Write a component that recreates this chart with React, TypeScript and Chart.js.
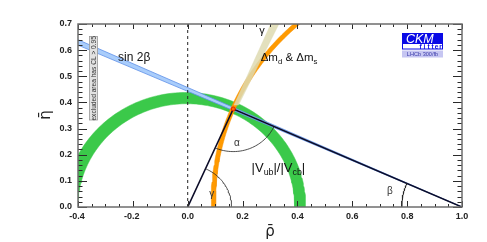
import React, { useEffect, useRef } from "react";
import { Chart, registerables } from "chart.js";

Chart.register(...registerables);

// ---- axes ----
const X_RANGE = [-0.4, 1.0];
const Y_RANGE = [0.0, 0.7];
const X_TICKS = [-0.4, -0.2, 0.0, 0.2, 0.4, 0.6, 0.8, 1.0];
const Y_TICKS = [0.0, 0.1, 0.2, 0.3, 0.4, 0.5, 0.6, 0.7];
const X_TICK_LABELS = ["-0.4", "-0.2", "0.0", "0.2", "0.4", "0.6", "0.8", "1.0"];
const Y_TICK_LABELS = ["0.0", "0.1", "0.2", "0.3", "0.4", "0.5", "0.6", "0.7"];

// ---- best fit apex (rho-bar, eta-bar) ----
const APEX_RHO = [0.166];
const APEX_ETA = [0.375];

// ---- |Vub|/|Vcb| ring around (0,0): polar angle (deg) -> inner / outer radius ----
const VUB_ANGLE = [0, 90, 180];
const VUB_INNER = [0.39, 0.395, 0.401];
const VUB_OUTER = [0.43, 0.438, 0.45];

// ---- Δmd & Δms ring around (1,0): eta -> radius ----
const DM_ETA = [0.0, 0.7];
const DM_RADIUS = [0.906, 0.924];
const DM_HALF_WIDTH = [0.008];

// ---- sin 2β wedge from (1,0): beta range (deg) ----
const SIN2B_BETA = [23.86, 24.56];

// ---- γ band from (0,0): angle range (deg), eta range shown ----
const GAMMA_ANGLE = [64.6, 66.6];
const GAMMA_ETA = [0.39, 0.75];

const FONT = '"Liberation Sans", Arial, Helvetica, sans-serif';
const D2R = Math.PI / 180;

type P = { x: number; y: number };

function interp(xs: number[], ys: number[], v: number): number {
  if (v <= xs[0]) {
    const t = (v - xs[0]) / (xs[1] - xs[0]);
    return ys[0] + (ys[1] - ys[0]) * t;
  }
  for (let i = 1; i < xs.length; i++) {
    if (v <= xs[i] || i === xs.length - 1) {
      const t = (v - xs[i - 1]) / (xs[i] - xs[i - 1]);
      return ys[i - 1] + (ys[i] - ys[i - 1]) * t;
    }
  }
  return ys[ys.length - 1];
}

function vubRing(): P[] {
  const outer: P[] = [];
  const inner: P[] = [];
  for (let d = 0; d <= 180; d += 1.5) {
    const a = d * D2R;
    const ro = interp(VUB_ANGLE, VUB_OUTER, d);
    const ri = interp(VUB_ANGLE, VUB_INNER, d);
    outer.push({ x: ro * Math.cos(a), y: ro * Math.sin(a) });
    inner.push({ x: ri * Math.cos(a), y: ri * Math.sin(a) });
  }
  return [...outer, ...inner.reverse()];
}

function dmRing(): P[] {
  const outer: P[] = [];
  const inner: P[] = [];
  const h = DM_HALF_WIDTH[0];
  for (let d = 0; d <= 62; d += 1) {
    const a = d * D2R;
    const eta0 = DM_RADIUS[0] * Math.sin(a);
    const r = interp(DM_ETA, DM_RADIUS, eta0);
    outer.push({ x: 1 - (r + h) * Math.cos(a), y: (r + h) * Math.sin(a) });
    inner.push({ x: 1 - (r - h) * Math.cos(a), y: (r - h) * Math.sin(a) });
  }
  return [...outer, ...inner.reverse()];
}

function sin2bWedge(): P[] {
  const x0 = -0.6;
  const L = 1 - x0;
  return [
    { x: 1, y: 0 },
    { x: x0, y: L * Math.tan(SIN2B_BETA[0] * D2R) },
    { x: x0, y: L * Math.tan(SIN2B_BETA[1] * D2R) },
    { x: 1, y: 0 },
  ];
}

function gammaBand(): P[] {
  const [e0, e1] = GAMMA_ETA;
  const [g0, g1] = GAMMA_ANGLE;
  return [
    { x: e0 / Math.tan(g0 * D2R), y: e0 },
    { x: e1 / Math.tan(g0 * D2R), y: e1 },
    { x: e1 / Math.tan(g1 * D2R), y: e1 },
    { x: e0 / Math.tan(g1 * D2R), y: e0 },
    { x: e0 / Math.tan(g0 * D2R), y: e0 },
  ];
}

function arc(cx: number, cy: number, r: number, a0: number, a1: number): P[] {
  const pts: P[] = [];
  const n = 40;
  for (let i = 0; i <= n; i++) {
    const a = (a0 + ((a1 - a0) * i) / n) * D2R;
    pts.push({ x: cx + r * Math.cos(a), y: cy + r * Math.sin(a) });
  }
  return pts;
}

function buildDatasets() {
  const ar = APEX_RHO[0];
  const ae = APEX_ETA[0];
  const toOrigin = Math.atan2(-ae, -ar) / D2R;
  const toOne = Math.atan2(-ae, 1 - ar) / D2R;
  const gammaDeg = Math.atan2(ae, ar) / D2R;
  const betaDeg = Math.atan2(ae, 1 - ar) / D2R;

  const base = { showLine: true, pointRadius: 0, pointHoverRadius: 0, clip: 0, tension: 0 };
  const list: any[] = [
    { ...base, label: "|Vub|/|Vcb|", data: vubRing(), fill: "shape", backgroundColor: "#3bc94a", borderColor: "#3bc94a", borderWidth: 0.5 },
    { ...base, label: "sin 2β", data: sin2bWedge(), fill: "shape", backgroundColor: "#a9cdfb", borderColor: "#5d8fe8", borderWidth: 0.8 },
    { ...base, label: "Δmd & Δms", data: dmRing(), fill: "shape", backgroundColor: "#ff9a00", borderColor: "#f59000", borderWidth: 0.5 },
    { ...base, label: "γ", data: gammaBand(), fill: "shape", backgroundColor: "rgba(222,218,178,0.85)", borderColor: "rgba(222,218,178,0.85)", borderWidth: 0.5 },
    { ...base, label: "rho=0", data: [{ x: 0, y: Y_RANGE[0] }, { x: 0, y: Y_RANGE[1] }], borderColor: "#222", borderWidth: 1, borderDash: [3, 3], fill: false },
    { ...base, label: "triangle", data: [{ x: 0, y: 0 }, { x: ar, y: ae }, { x: 1, y: 0 }], borderColor: "#0c0c28", borderWidth: 1.6, fill: false },
    { ...base, label: "γ arc", data: arc(0, 0, 0.16, 0, gammaDeg), borderColor: "#222", borderWidth: 0.8, fill: false },
    { ...base, label: "α arc", data: arc(ar, ae, 0.163, toOrigin, toOne), borderColor: "#222", borderWidth: 0.8, fill: false },
    { ...base, label: "β arc", data: arc(1, 0, 0.22, 180 - betaDeg, 180), borderColor: "#222", borderWidth: 0.8, fill: false },
    { label: "apex", data: [{ x: ar, y: ae }], showLine: false, pointRadius: 2, pointBorderWidth: 1, pointBackgroundColor: "#ff6a00", pointBorderColor: "#e02000", clip: 3 },
  ];
  const n = list.length;
  list.forEach((d, i) => (d.order = n - i));
  return list;
}

function rich(ctx: CanvasRenderingContext2D, parts: [string, boolean][], x: number, y: number, size: number) {
  let cx = x;
  for (const [t, sub] of parts) {
    const s = sub ? size * 0.68 : size;
    ctx.font = `${s}px ${FONT}`;
    ctx.fillText(t, cx, sub ? y + size * 0.28 : y);
    cx += ctx.measureText(t).width;
  }
}

const framePlugin = {
  id: "ckmFrame",
  afterDatasetsDraw(chart: any) {
    const { ctx, chartArea: a } = chart;
    const xs = chart.scales.x;
    const ys = chart.scales.y;
    const px = (v: number) => xs.getPixelForValue(v);
    const py = (v: number) => ys.getPixelForValue(v);
    ctx.save();

    // ticks
    ctx.strokeStyle = "#2a2a2a";
    ctx.lineWidth = 1;
    ctx.beginPath();
    for (let i = 0; i <= 28; i++) {
      const v = X_RANGE[0] + i * 0.05;
      const major = X_TICKS.some((t) => Math.abs(t - v) < 1e-6);
      const X = Math.round(px(v)) + 0.5;
      const lb = major ? 6 : 3;
      const lt = major ? 5 : 3;
      ctx.moveTo(X, a.bottom);
      ctx.lineTo(X, a.bottom - lb);
      ctx.moveTo(X, a.top);
      ctx.lineTo(X, a.top + lt);
    }
    for (let i = 0; i <= 35; i++) {
      const v = Y_RANGE[0] + i * 0.02;
      const major = Y_TICKS.some((t) => Math.abs(t - v) < 1e-6);
      const Y = Math.round(py(v)) + 0.5;
      const l = major ? 9 : 4.5;
      ctx.moveTo(a.left, Y);
      ctx.lineTo(a.left + l, Y);
      ctx.moveTo(a.right, Y);
      ctx.lineTo(a.right - l, Y);
    }
    ctx.stroke();

    // frame
    ctx.strokeStyle = "#6e6e6e";
    ctx.lineWidth = 1.5;
    ctx.strokeRect(a.left, a.top, a.right - a.left, a.bottom - a.top);

    // tick labels
    ctx.fillStyle = "#222";
    ctx.font = `bold 9px ${FONT}`;
    ctx.textAlign = "center";
    ctx.textBaseline = "middle";
    X_TICKS.forEach((v, i) => ctx.fillText(X_TICK_LABELS[i], px(v) + (v < 0 ? -1 : 0), a.bottom + 9.5));
    ctx.textAlign = "right";
    Y_TICKS.forEach((v, i) => ctx.fillText(Y_TICK_LABELS[i], 72, py(v)));

    // axis titles
    ctx.font = `15px "DejaVu Sans", ${FONT}`;
    ctx.textAlign = "center";
    ctx.textBaseline = "alphabetic";
    ctx.fillStyle = "#222";
    ctx.fillText("ρ̄", 270, 236);
    ctx.save();
    ctx.translate(50, 115);
    ctx.rotate(-Math.PI / 2);
    ctx.fillText("η̄", 0, 0);
    ctx.restore();

    // constraint labels
    ctx.fillStyle = "#111";
    ctx.textAlign = "left";
    ctx.textBaseline = "alphabetic";
    ctx.font = `12px ${FONT}`;
    ctx.fillText("sin 2β", px(-0.254), py(0.559));
    rich(ctx, [["Δm", false], ["d", true], [" & Δm", false], ["s", true]], px(0.266), py(0.559), 11.5);
    rich(ctx, [["|V", false], ["ub", true], ["|/|V", false], ["cb", true], ["|", false]], px(0.233), py(0.135), 13);
    ctx.textAlign = "center";
    ctx.textBaseline = "middle";
    ctx.font = `11px ${FONT}`;
    ctx.fillText("γ", px(0.271), py(0.672));
    ctx.fillStyle = "#333";
    ctx.font = `10px ${FONT}`;
    ctx.fillText("α", px(0.179), py(0.245));
    ctx.fillText("γ", px(0.0875), py(0.048));
    ctx.fillText("β", px(0.7375), py(0.06));

    // excluded-area note (rotated box)
    ctx.fillStyle = "#e2e2e2";
    ctx.fillRect(89.5, 36.5, 8, 83.5);
    ctx.strokeStyle = "#9a9a9a";
    ctx.lineWidth = 0.8;
    ctx.strokeRect(89.5, 36.5, 8, 83.5);
    ctx.save();
    ctx.translate(93.7, 78.3);
    ctx.rotate(-Math.PI / 2);
    ctx.fillStyle = "#333";
    ctx.font = `6.6px ${FONT}`;
    ctx.textAlign = "center";
    ctx.textBaseline = "middle";
    ctx.fillText("excluded area has CL > 0.95", 0, 0);
    ctx.restore();

    // CKMfitter logo
    ctx.fillStyle = "#0a0ae6";
    ctx.fillRect(402, 33, 41, 10);
    ctx.fillStyle = "#fff";
    ctx.font = `italic 12.5px ${FONT}`;
    ctx.textAlign = "left";
    ctx.textBaseline = "alphabetic";
    ctx.fillText("CKM", 406, 42.5);
    ctx.fillStyle = "#fff";
    ctx.fillRect(402, 43, 41, 6);
    ctx.strokeStyle = "#0a0ae6";
    ctx.lineWidth = 1;
    ctx.strokeRect(402.5, 43.5, 40, 5.5);
    ctx.fillStyle = "#0a0ae6";
    ctx.font = `bold 6.5px ${FONT}`;
    ctx.textAlign = "center";
    "fitter".split("").forEach((c, i) => ctx.fillText(c, 420.5 + i * 4, 48.6));
    ctx.fillStyle = "#c6c6f2";
    ctx.fillRect(402, 50.5, 41, 7);
    ctx.fillStyle = "#3a3aa8";
    ctx.font = `5.6px ${FONT}`;
    ctx.fillText("LHCb 300/fb", 422.5, 56.2);

    ctx.restore();
  },
};

export default function App() {
  const ref = useRef<HTMLCanvasElement>(null);
  useEffect(() => {
    const canvas = ref.current;
    if (!canvas) return;
    const chart = new Chart(canvas, {
      type: "scatter",
      data: { datasets: buildDatasets() },
      options: {
        responsive: false,
        animation: false,
        devicePixelRatio: 1,
        events: [],
        layout: { padding: { left: 78, right: 25, top: 24, bottom: 35 } },
        scales: {
          x: { type: "linear", min: X_RANGE[0], max: X_RANGE[1], display: false },
          y: { type: "linear", min: Y_RANGE[0], max: Y_RANGE[1], display: false },
        },
        plugins: { legend: { display: false }, tooltip: { enabled: false } },
      } as any,
      plugins: [framePlugin as any],
    });
    return () => chart.destroy();
  }, []);
  return (
    <div style={{ position: "absolute", left: 0, top: 0, width: 487, height: 242, background: "#fff" }}>
      <canvas ref={ref} width={487} height={242} style={{ width: 487, height: 242, display: "block" }} />
    </div>
  );
}
